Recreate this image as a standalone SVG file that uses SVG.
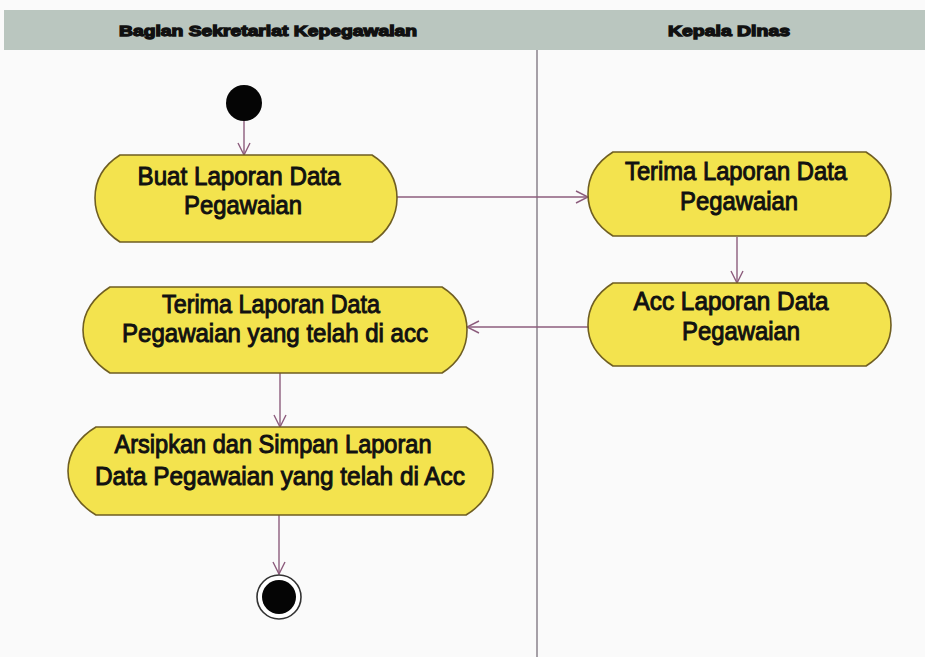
<svg xmlns="http://www.w3.org/2000/svg" width="925" height="657" viewBox="0 0 925 657">
  <style>
    .lane-head { fill: #bac6bf; }
    .lane-title { font-family: "Liberation Sans", Arial, sans-serif; font-size: 15px; font-weight: bold; fill: #111; stroke: #111; stroke-width: 1.3; text-anchor: middle; }
    .divider { stroke: #6e6470; stroke-width: 1.2; fill: none; }
    .action { fill: #f3e34e; stroke: #6f5e22; stroke-width: 1.6; }
    .label { font-family: "Liberation Sans", Arial, sans-serif; font-size: 26px; fill: #111; stroke: #111; stroke-width: 1; text-anchor: middle; }
    .flow { stroke: #8c5c7c; stroke-width: 1.4; fill: none; marker-end: url(#open-arrow); }
  </style>
  <defs>
    <marker id="open-arrow" viewBox="0 0 14 14" refX="13" refY="7" markerWidth="14" markerHeight="14" markerUnits="userSpaceOnUse" orient="auto">
      <path d="M1,1 L13,7 L1,13" fill="none" stroke="#8c5c7c" stroke-width="1.4"/>
    </marker>
  </defs>

  <rect x="0" y="0" width="925" height="657" fill="#fafafa"/>

  <!-- swimlane headers -->
  <g id="lanes">
    <rect class="lane-head" x="4" y="10" width="921" height="40"/>
    <text class="lane-title" x="268" y="36" textLength="298" lengthAdjust="spacingAndGlyphs">Bagian Sekretariat Kepegawaian</text>
    <text class="lane-title" x="729" y="36" textLength="122" lengthAdjust="spacingAndGlyphs">Kepala Dinas</text>
    <line class="divider" x1="537" y1="50" x2="537" y2="657"/>
  </g>

  <!-- control flows -->
  <g id="connectors">
    <line class="flow" x1="244" y1="121" x2="244" y2="155"/>
    <line class="flow" x1="397" y1="197" x2="588" y2="197"/>
    <line class="flow" x1="737" y1="237" x2="737" y2="283"/>
    <line class="flow" x1="588" y1="327" x2="467" y2="327"/>
    <line class="flow" x1="280" y1="373" x2="280" y2="427"/>
    <line class="flow" x1="279" y1="515" x2="279" y2="574"/>
  </g>

  <g id="start">
    <circle cx="244" cy="103" r="18" fill="#050505"/>
  </g>

  <g id="buat-laporan">
    <path class="action" d="M120,155 H372 C388,165 397,180 397,198 C397,216 388,232 372,242 H120 C104,232 95,216 95,198 C95,180 104,165 120,155 Z"/>
    <text class="label" x="239" y="185" textLength="203" lengthAdjust="spacingAndGlyphs">Buat Laporan Data</text>
    <text class="label" x="243" y="214" textLength="118" lengthAdjust="spacingAndGlyphs">Pegawaian</text>
  </g>

  <g id="terima-laporan">
    <path class="action" d="M613,152 H866 C882,162 891,176 891,194 C891,212 882,226 866,236 H613 C597,226 588,212 588,194 C588,176 597,162 613,152 Z"/>
    <text class="label" x="736" y="180" textLength="222" lengthAdjust="spacingAndGlyphs">Terima Laporan Data</text>
    <text class="label" x="739" y="210" textLength="118" lengthAdjust="spacingAndGlyphs">Pegawaian</text>
  </g>

  <g id="acc-laporan">
    <path class="action" d="M613,283 H866 C882,293 891,307 891,325 C891,343 882,356 866,366 H613 C597,356 588,343 588,325 C588,307 597,293 613,283 Z"/>
    <text class="label" x="731" y="310" textLength="195" lengthAdjust="spacingAndGlyphs">Acc Laporan Data</text>
    <text class="label" x="741" y="340" textLength="118" lengthAdjust="spacingAndGlyphs">Pegawaian</text>
  </g>

  <g id="terima-acc">
    <path class="action" d="M110,287 H442 C458,297 467,312 467,330 C467,348 458,363 442,373 H110 C94,363 83,348 83,330 C83,312 94,297 110,287 Z"/>
    <text class="label" x="271" y="313" textLength="218" lengthAdjust="spacingAndGlyphs">Terima Laporan Data</text>
    <text class="label" x="275" y="342" textLength="306" lengthAdjust="spacingAndGlyphs">Pegawaian yang telah di acc</text>
  </g>

  <g id="arsipkan">
    <path class="action" d="M96,427 H466 C483,437 493,453 493,471 C493,489 483,505 466,515 H96 C79,505 68,489 68,471 C68,453 79,437 96,427 Z"/>
    <text class="label" x="273" y="453" textLength="317" lengthAdjust="spacingAndGlyphs">Arsipkan dan Simpan Laporan</text>
    <text class="label" x="280" y="485" textLength="370" lengthAdjust="spacingAndGlyphs">Data Pegawaian yang telah di Acc</text>
  </g>

  <g id="end">
    <circle cx="279" cy="597" r="22" fill="#ffffff" stroke="#333" stroke-width="1.6"/>
    <circle cx="279" cy="597" r="17" fill="#050505"/>
  </g>
</svg>
